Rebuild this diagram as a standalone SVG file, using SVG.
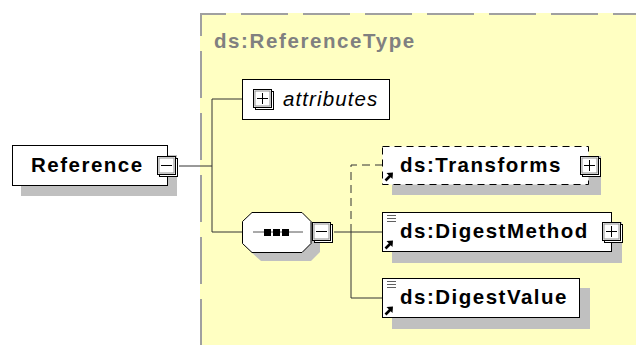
<svg xmlns="http://www.w3.org/2000/svg" width="636" height="345" viewBox="0 0 636 345">
<style>
.bold{font-family:"Liberation Sans",Arial,sans-serif;font-weight:bold;font-size:20.5px;letter-spacing:1.5px;fill:#000}
.title{font-family:"Liberation Sans",Arial,sans-serif;font-weight:bold;font-size:20.5px;letter-spacing:1.6px;fill:#808080}
.ital{font-family:"Liberation Sans",Arial,sans-serif;font-style:italic;font-size:20.5px;letter-spacing:1.1px;fill:#000}
.box{fill:#fff;stroke:#000;stroke-width:1}
.shadow{fill:#c0c0c0}
.conn{fill:none;stroke:#333;stroke-width:1}
.dash{stroke-dasharray:8,5}
</style>
<defs>
<g id="btn">
<rect x="2.5" y="2.5" width="18" height="18" fill="#fff" stroke="#000"/>
<rect x="0.5" y="0.5" width="18" height="18" fill="#fff" stroke="#000"/>
<rect x="2" y="2" width="15" height="15" fill="none" stroke="#909090"/>
</g>
<g id="plus">
<use href="#btn"/>
<path d="M4 9.5H15M9.5 4V15" stroke="#000" fill="none"/>
</g>
<g id="minus">
<use href="#btn"/>
<path d="M4 9.5H15" stroke="#000" fill="none"/>
</g>
<g id="ref">
<path d="M2.5 9.5L7.5 4.5" stroke="#000" stroke-width="2.6"/>
<polygon points="10,1.5 3.5,2 9.5,8" fill="#000"/>
</g>
<g id="simple">
<path d="M0 0.5H9M0 3.5H9M0 6.5H9" stroke="#606060" fill="none"/>
</g>
</defs>

<g id="type-frame">
<rect x="200" y="13" width="436" height="332" fill="#ffffc2"/>
<path d="M201 346V14H636" fill="none" stroke="#a0a0a0" stroke-width="2" stroke-dasharray="47,15"/>
<text class="title" x="214" y="48">ds:ReferenceType</text>
</g>

<g id="connectors">
<path class="conn" d="M179 166H212M212 99V232M212 99H242M212 232H242"/>
<path class="conn" d="M334 232H382M351 232V298H382"/>
<path class="conn dash" d="M351 232V165H382"/>
</g>

<g id="node-reference">
<rect class="shadow" x="21" y="155" width="156" height="41"/>
<rect class="box" x="12.5" y="145.5" width="155" height="40"/>
<text class="bold" x="31" y="172">Reference</text>
<use href="#minus" x="157" y="156"/>
</g>

<g id="node-attributes">
<rect class="box" x="242.5" y="79.5" width="147" height="40"/>
<use href="#plus" x="253" y="89"/>
<text class="ital" x="283" y="106">attributes</text>
</g>

<g id="node-sequence">
<polygon class="shadow" points="261,221 311,221 320,230 320,252 311,261 261,261 251,252 251,230"/>
<polygon points="252,212.5 302,212.5 311,221.5 311,243.5 302,252.5 252,252.5 242.5,243.5 242.5,221.5" fill="#fff" stroke="#000"/>
<path d="M253 232H303" stroke="#555" fill="none"/>
<rect x="264" y="229" width="7" height="7" fill="#000"/>
<rect x="273" y="229" width="7" height="7" fill="#000"/>
<rect x="282" y="229" width="7" height="7" fill="#000"/>
<use href="#minus" x="312" y="222"/>
</g>

<g id="node-transforms">
<rect class="shadow" x="392" y="156" width="209" height="39"/>
<rect x="382.5" y="146.5" width="206" height="38" fill="#fff" stroke="#000" stroke-dasharray="7,5"/>
<use href="#ref" x="383" y="171"/>
<text class="bold" x="400" y="172">ds:Transforms</text>
<use href="#plus" x="580" y="156"/>
</g>

<g id="node-digestmethod">
<rect class="shadow" x="392" y="222" width="230" height="41"/>
<rect class="box" x="382.5" y="212.5" width="229" height="39"/>
<use href="#simple" x="387" y="215"/>
<use href="#ref" x="383" y="239"/>
<text class="bold" x="400" y="238">ds:DigestMethod</text>
<use href="#plus" x="602" y="222"/>
</g>

<g id="node-digestvalue">
<rect class="shadow" x="392" y="288" width="198" height="41"/>
<rect class="box" x="382.5" y="278.5" width="197" height="39"/>
<use href="#simple" x="387" y="281"/>
<use href="#ref" x="383" y="305"/>
<text class="bold" x="400" y="304">ds:DigestValue</text>
</g>
</svg>
